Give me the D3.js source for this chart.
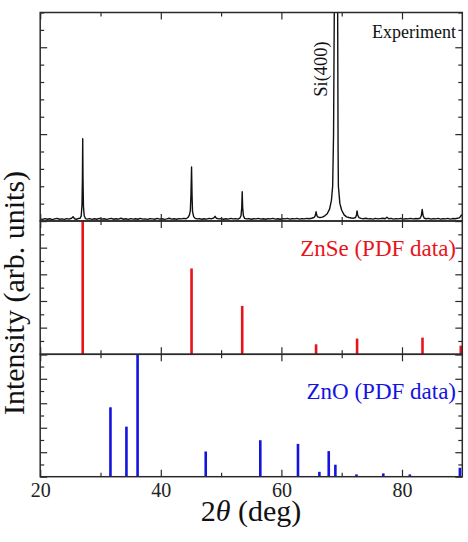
<!DOCTYPE html>
<html>
<head>
<meta charset="utf-8">
<script src="https://cdn.jsdelivr.net/npm/d3@7"></script>
</head>
<body style="margin:0; background:#fff">
<div id="chart"></div>
<script>
// measured XRD scan, [2theta (deg), intensity (arb.)]
const experiment = [
  [20.0,.12],[20.4,.09],[20.8,.14],[21.2,.10],[21.6,.13],[22.0,.08],[22.4,.12],[22.8,.15],
  [23.2,.10],[23.6,.12],[24.0,.09],[24.4,.14],[24.8,.11],[25.2,.16],[25.45,.25],[25.7,.13],
  [26.0,.10],[26.3,.14],[26.6,.15],[26.8,.28],[26.93,.9],[27.0,2.4],[27.05,4.73],[27.1,2.4],
  [27.17,.85],[27.3,.3],[27.5,.14],[27.8,.11],[28.2,.14],[28.6,.09],[29.0,.13],[29.4,.10],
  [29.8,.15],[30.2,.11],[30.6,.13],[31.0,.09],[31.4,.12],[31.8,.15],[32.2,.10],[32.6,.13],
  [33.0,.11],[33.4,.16],[33.8,.10],[34.2,.13],[34.6,.09],[35.0,.14],[35.4,.11],[35.8,.13],
  [36.2,.10],[36.6,.15],[37.0,.11],[37.4,.12],[37.8,.09],[38.2,.14],[38.6,.12],[39.0,.10],
  [39.4,.15],[39.8,.11],[40.2,.13],[40.6,.09],[41.0,.12],[41.4,.16],[41.8,.11],[42.2,.13],
  [42.6,.10],[43.0,.14],[43.4,.12],[43.8,.15],[44.2,.13],[44.5,.2],[44.75,.35],[44.9,.6],
  [45.0,1.5],[45.1,3.11],[45.18,1.5],[45.26,.55],[45.45,.25],[45.7,.15],[46.0,.12],[46.4,.14],
  [46.8,.10],[47.2,.13],[47.6,.11],[48.0,.15],[48.4,.12],[48.8,.18],[49.0,.27],[49.2,.16],
  [49.6,.12],[50.0,.14],[50.4,.10],[50.8,.13],[51.2,.11],[51.6,.15],[52.0,.12],[52.4,.14],
  [52.8,.11],[53.1,.16],[53.3,.3],[53.42,.75],[53.5,1.68],[53.58,.75],[53.7,.3],[53.9,.15],
  [54.2,.12],[54.6,.14],[55.0,.10],[55.4,.13],[55.8,.12],[56.2,.15],[56.6,.11],[57.0,.13],
  [57.4,.10],[57.8,.14],[58.2,.12],[58.6,.15],[59.0,.11],[59.4,.13],[59.8,.10],[60.2,.14],
  [60.6,.12],[61.0,.15],[61.4,.11],[61.8,.13],[62.2,.12],[62.6,.15],[63.0,.11],[63.4,.14],
  [63.8,.12],[64.2,.15],[64.6,.13],[65.0,.16],[65.4,.2],[65.6,.3],[65.75,.53],[65.9,.3],
  [66.1,.22],[66.4,.2],[66.8,.22],[67.2,.3],[67.6,.42],[68.0,.7],[68.3,1.2],[68.5,2.0],
  [68.65,5],[68.77,12],[69.05,40],[69.33,12],[69.4,4],[69.45,2],[69.7,1.0],[70.0,.62],
  [70.4,.35],[70.8,.24],[71.2,.2],[71.6,.17],[72.0,.16],[72.3,.2],[72.45,.35],[72.55,.58],
  [72.65,.35],[72.85,.2],[73.2,.15],[73.6,.13],[74.0,.16],[74.4,.12],[74.8,.14],[75.2,.11],
  [75.6,.15],[76.0,.12],[76.4,.14],[76.8,.16],[77.2,.13],[77.5,.22],[77.8,.13],[78.2,.15],
  [78.6,.11],[79.0,.14],[79.4,.12],[79.8,.15],[80.2,.11],[80.6,.13],[81.0,.12],[81.4,.15],
  [81.8,.12],[82.2,.14],[82.6,.13],[83.0,.16],[83.2,.3],[83.35,.67],[83.5,.3],[83.7,.16],
  [84.0,.13],[84.4,.15],[84.8,.11],[85.2,.14],[85.6,.12],[86.0,.15],[86.4,.11],[86.8,.13],
  [87.2,.12],[87.6,.15],[88.0,.11],[88.4,.14],[88.8,.13],[89.2,.16],[89.5,.18],[89.7,.26],
  [89.85,.34],[90.0,.3]
];

// reference patterns (relative intensity, %)
const znseTheta = [27.05, 45.1, 53.5, 65.75, 72.55, 83.4, 89.75];
const znseInt   = [100, 64.4, 36.3, 7.5, 11.8, 12.5, 6.5];

const znoTheta = [31.65, 34.3, 36.15, 47.45, 56.5, 62.75, 66.3, 67.85, 68.95, 72.45, 76.9, 81.3, 89.6];
const znoInt   = [56.7, 40.9, 100, 20.6, 29.8, 26.8, 4, 20.9, 9.8, 1.9, 2.7, 1.9, 7.3];

const xMajor = [20, 40, 60, 80];
const xMinor = [30, 50, 70];

const W = 468, H = 542;
const frameColor = "#2a2a2a";
const serif = "'Liberation Serif'";

const svg = d3.select("#chart").append("svg")
    .attr("width", W)
    .attr("height", H);

const x = d3.scaleLinear().domain([20, 90]).range([40.2, 462.3]);

// three stacked panels
const panels = [
    { name: "exp",  top: 12.5,  bottom: 221,   domain: [0, 12],  major: [0, 5, 10], minor: d3.range(0, 13) },
    { name: "znse", top: 221,   bottom: 354.3, domain: [0, 100], major: [0, 20, 40, 60, 80, 100], minor: d3.range(0, 101, 10) },
    { name: "zno",  top: 354.3, bottom: 476.7, domain: [0, 100], major: [0, 20, 40, 60, 80, 100], minor: d3.range(0, 101, 10) }
];

panels.forEach(function (p) {
    p.y = d3.scaleLinear().domain(p.domain).range([p.bottom, p.top]);
});

function drawAxes(p, withLabels) {
    let g = svg.append("g").attr("class", "axes-" + p.name);

    let minorY = p.minor.filter(v => p.major.indexOf(v) < 0);

    // x ticks, bottom edge (pointing up)
    g.append("g").attr("transform", "translate(0," + p.bottom + ")")
        .call(d3.axisBottom(x).tickValues(xMajor).tickSizeInner(-7).tickSizeOuter(0).tickPadding(6)
            .tickFormat(withLabels ? d3.format("d") : ""));
    g.append("g").attr("transform", "translate(0," + p.bottom + ")")
        .call(d3.axisBottom(x).tickValues(xMinor).tickSizeInner(-4).tickSizeOuter(0).tickFormat(""));

    // x ticks, top edge (pointing down)
    g.append("g").attr("transform", "translate(0," + p.top + ")")
        .call(d3.axisTop(x).tickValues(xMajor).tickSizeInner(-7).tickSizeOuter(0).tickFormat(""));
    g.append("g").attr("transform", "translate(0," + p.top + ")")
        .call(d3.axisTop(x).tickValues(xMinor).tickSizeInner(-4).tickSizeOuter(0).tickFormat(""));

    // y ticks, left and right (pointing in)
    g.append("g").attr("transform", "translate(" + x(20) + ",0)")
        .call(d3.axisLeft(p.y).tickValues(p.major).tickSizeInner(-7).tickSizeOuter(0).tickFormat(""));
    g.append("g").attr("transform", "translate(" + x(20) + ",0)")
        .call(d3.axisLeft(p.y).tickValues(minorY).tickSizeInner(-4).tickSizeOuter(0).tickFormat(""));
    g.append("g").attr("transform", "translate(" + x(90) + ",0)")
        .call(d3.axisRight(p.y).tickValues(p.major).tickSizeInner(-7).tickSizeOuter(0).tickFormat(""));
    g.append("g").attr("transform", "translate(" + x(90) + ",0)")
        .call(d3.axisRight(p.y).tickValues(minorY).tickSizeInner(-4).tickSizeOuter(0).tickFormat(""));

    g.selectAll(".domain").remove();
    g.selectAll(".tick line").attr("stroke", frameColor).attr("stroke-width", 1.2);
    g.selectAll(".tick text")
        .style("font-family", serif)
        .style("font-size", "20px")
        .attr("fill", "#222");

    // frame
    g.append("rect")
        .attr("x", x(20))
        .attr("y", p.top)
        .attr("width", x(90) - x(20))
        .attr("height", p.bottom - p.top)
        .attr("fill", "none")
        .attr("stroke", frameColor)
        .attr("stroke-width", 1.5);
}

// clip region for each panel
const defs = svg.append("defs");
panels.forEach(function (p) {
    defs.append("clipPath").attr("id", "clip-" + p.name)
        .append("rect")
        .attr("x", x(20))
        .attr("y", p.top)
        .attr("width", x(90) - x(20))
        .attr("height", p.bottom - p.top);
});

// Experiment curve
const pExp = panels[0];
const line = d3.line()
    .x(d => x(d[0]))
    .y(d => pExp.y(d[1]));

svg.append("path")
    .datum(experiment)
    .attr("clip-path", "url(#clip-exp)")
    .attr("d", line)
    .attr("fill", "none")
    .attr("stroke", "#111")
    .attr("stroke-width", 1.4)
    .attr("stroke-linejoin", "round");

// stick patterns
function drawSticks(p, thetas, ints, color) {
    let data = thetas.map((t, i) => ({ t: t, v: ints[i] }));
    svg.append("g")
        .attr("clip-path", "url(#clip-" + p.name + ")")
        .selectAll("rect")
        .data(data)
        .enter().append("rect")
        .attr("x", d => x(d.t) - 1.3)
        .attr("width", 2.6)
        .attr("y", d => p.y(d.v))
        .attr("height", d => p.y(0) - p.y(d.v))
        .attr("fill", color);
}

drawSticks(panels[1], znseTheta, znseInt, "#e8141c");
drawSticks(panels[2], znoTheta, znoInt, "#1414e0");

drawAxes(panels[0], false);
drawAxes(panels[1], false);
drawAxes(panels[2], true);

function label(txt, opts) {
    let t = svg.append("text")
        .attr("text-anchor", opts.anchor || "end")
        .attr("fill", opts.color || "#111")
        .style("font-family", serif)
        .style("font-size", opts.size + "px")
        .text(txt);
    if (opts.transform) t.attr("transform", opts.transform);
    else t.attr("x", opts.x).attr("y", opts.y);
    return t;
}

// panel labels
label("Experiment", { x: 456, y: 38, size: 18 });
label("Si(400)", { transform: "translate(327,69) rotate(-90)", anchor: "middle", size: 18.5 });
label("ZnSe (PDF data)", { x: 456, y: 255.5, size: 23, color: "#e8141c" });
label("ZnO (PDF data)", { x: 456, y: 399, size: 23, color: "#1414e0" });

// axis titles
label("Intensity (arb. units)", { transform: "translate(24,293) rotate(-90)", anchor: "middle", size: 30 });

const xt = label("", { x: 251, y: 521, anchor: "middle", size: 30 });
xt.append("tspan").text("2");
xt.append("tspan").style("font-style", "italic").text("\u03b8");
xt.append("tspan").text(" (deg)");
</script>
</body>
</html>
